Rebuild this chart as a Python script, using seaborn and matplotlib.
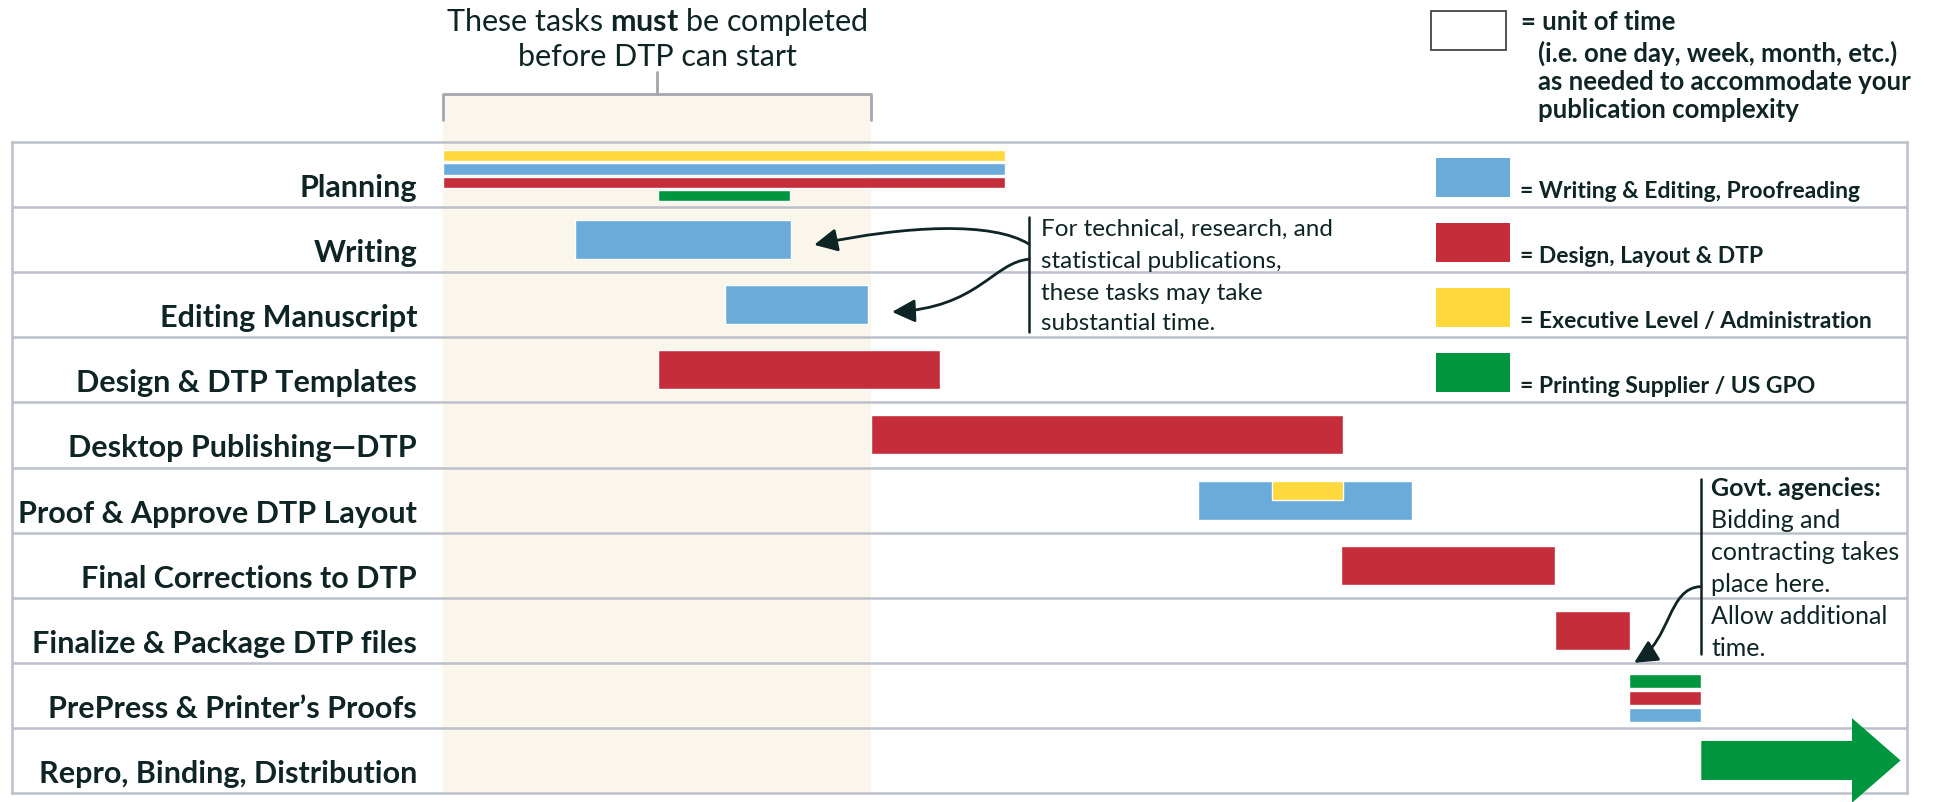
import matplotlib
matplotlib.use("Agg")
import matplotlib.pyplot as plt
from matplotlib.patches import Rectangle, Polygon, FancyArrowPatch
from matplotlib.path import Path
import seaborn as sns

# ---- data -------------------------------------------------------------
tasks = ["Planning", "Writing", "Editing Manuscript", "Design & DTP Templates",
         "Desktop Publishing\u2014DTP", "Proof & Approve DTP Layout",
         "Final Corrections to DTP", "Finalize & Package DTP files",
         "PrePress & Printer\u2019s Proofs", "Repro, Binding, Distribution"]

categories = ["Writing & Editing, Proofreading", "Design, Layout & DTP",
              "Executive Level / Administration", "Printing Supplier / US GPO"]
cat_colors = ["#6aabd9", "#c52d3b", "#ffd83c", "#00963f"]

# bar segments (units of time from the start of the schedule)
bar_task  = [0, 0, 0, 0, 1, 2, 3, 4, 5, 6, 7, 8, 8, 8]
bar_cat   = [2, 0, 1, 3, 0, 0, 1, 1, 0, 1, 1, 3, 1, 0]
bar_start = [0, 0, 0, 3.02, 1.85, 3.95, 3.01, 5.99, 10.58, 12.57, 15.57, 16.61, 16.61, 16.61]
bar_end   = [7.87, 7.87, 7.87, 4.86, 4.88, 5.96, 6.96, 12.61, 13.57, 15.57, 16.62, 17.62, 17.62, 17.62]

# executive sign-off inside the proofing bar
inset_task  = [5]
inset_cat   = [2]
inset_start = [11.61]
inset_end   = [12.61]

# open ended last phase
arrow_task, arrow_cat, arrow_start, arrow_end = 9, 3, 17.62, 20.41

# tasks that must be done before DTP
must_start, must_end = 0, 6

ink = "#0f2424"
grid = "#bcc0cc"
beige = "#faf6eb"

sns.set_style("white")
plt.rcParams["font.family"] = ["Lato", "DejaVu Sans"]
plt.rcParams["mathtext.fontset"] = "custom"
plt.rcParams["mathtext.rm"] = "Lato"
plt.rcParams["mathtext.bf"] = "Lato:bold"

fig = plt.figure(figsize=(19.42, 8.03), dpi=100)
ax = fig.add_axes([12 / 1942, 1 - 794 / 803, (1907 - 12) / 1942, (794 - 143) / 803])
ax.set_xlim(-6.03, 20.5)
ax.set_ylim(len(tasks) - 0.5, -0.5)
ax.set_xticks([])
ax.set_yticks([])
for s in ax.spines.values():
    s.set_visible(True)
    s.set_color(grid)
    s.set_linewidth(1.8)

xt = ax.get_xaxis_transform()
yt = ax.get_yaxis_transform()

# shaded "must be completed" band with bracket
ax.add_patch(Rectangle((must_start, 0), must_end - must_start, 1.074, transform=xt,
                       color=beige, zorder=0.5, clip_on=False, lw=0))
ax.plot([must_start, must_start, must_end, must_end], [1.034, 1.074, 1.074, 1.034],
        transform=xt, clip_on=False, color="#a6a6ae", lw=2)
mid = (must_start + must_end) / 2
ax.plot([mid, mid], [1.074, 1.108], transform=xt, clip_on=False, color="#a6a6ae", lw=2)
ax.text(mid, 1.186, r"These tasks $\mathbf{must}$ be completed", transform=xt,
        ha="center", va="center", fontsize=22, color=ink)
ax.text(mid, 1.132, "before DTP can start", transform=xt,
        ha="center", va="center", fontsize=22, color=ink)

for i in range(1, len(tasks)):
    ax.axhline(i - 0.5, color=grid, lw=1.8, zorder=1)

# task labels
for i, t in enumerate(tasks):
    ax.text(-0.36, i + 0.33, t, ha="right", va="baseline", fontsize=22,
            fontweight="bold", color=ink)

# bars
for t in sorted(set(bar_task)):
    idx = [k for k in range(len(bar_task)) if bar_task[k] == t]
    n = len(idx)
    if n == 1:
        h, ys = 0.6, [t]
    else:
        pitch = min(0.82 / n, 0.26)
        h = pitch * 0.85
        ys = [t + 0.41 - (n - 1 - j) * pitch - h / 2 for j in range(n)]
    for j, k in enumerate(idx):
        ax.barh(ys[j], bar_end[k] - bar_start[k], left=bar_start[k], height=h,
                color=cat_colors[bar_cat[k]], zorder=3)

for k in range(len(inset_task)):
    ax.barh(inset_task[k] - 0.15, inset_end[k] - inset_start[k], left=inset_start[k],
            height=0.3, color=cat_colors[inset_cat[k]], zorder=4)

hl = 0.68
t = arrow_task
ax.add_patch(Polygon([(arrow_start, t - 0.3), (arrow_end - hl, t - 0.3),
                      (arrow_end - hl, t - 0.65), (arrow_end, t),
                      (arrow_end - hl, t + 0.65), (arrow_end - hl, t + 0.3),
                      (arrow_start, t + 0.3)],
                     closed=True, color=cat_colors[arrow_cat], lw=0, zorder=3, clip_on=False))

# legend
ax.add_patch(Rectangle((1430.6 / 1942, 1 - 51 / 803), 75 / 1942, 39 / 803,
                       transform=fig.transFigure, facecolor="white", edgecolor="#444444",
                       lw=1.3, clip_on=False))
fig.text(1521 / 1942, 1 - 22 / 803, "= unit of time", ha="left", va="center",
         fontsize=18.5, fontweight="bold", color=ink)
for y, line in zip([53, 82, 110], ["(i.e. one day, week, month, etc.)",
                                   "as needed to accommodate your",
                                   "publication complexity"]):
    fig.text(1537.5 / 1942, 1 - y / 803, line, ha="left", va="center",
             fontsize=18.5, fontweight="bold", color=ink)

for i, (c, col) in enumerate(zip(categories, cat_colors)):
    ax.add_patch(Rectangle((0.7514, i + 0.04 - 0.3), 0.039, 0.6, transform=yt,
                           color=col, lw=0, zorder=3))
    ax.text(0.7957, i + 0.34, "= " + c, transform=yt, ha="left", va="baseline",
            fontsize=16.5, fontweight="bold", color=ink)

# annotation: writing & editing may take long
ax.plot([8.21, 8.21], [0.65, 2.42], color=ink, lw=1.8, zorder=5)
for y, line in zip([0.83, 1.32, 1.81, 2.28],
                   ["For technical, research, and", "statistical publications,",
                    "these tasks may take", "substantial time."]):
    ax.text(8.38, y, line, ha="left", va="center", fontsize=17.5, color=ink)


def curved_arrow(pts):
    path = Path(pts, [Path.MOVETO, Path.CURVE4, Path.CURVE4, Path.CURVE4])
    ax.add_patch(FancyArrowPatch(path=path, arrowstyle="-|>,head_length=0.7,head_width=0.35",
                                 mutation_scale=20, color=ink, lw=2, zorder=6,
                                 clip_on=False))


curved_arrow([(8.21, 1.07), (7.7, 0.72), (6.5, 0.78), (5.2, 1.08)])
curved_arrow([(8.21, 1.3), (7.7, 1.35), (7.5, 2.05), (6.29, 2.11)])

# annotation: government bidding
ax.plot([17.61, 17.61], [4.68, 7.37], color=ink, lw=1.8, zorder=5)
gov_lines = ["Govt. agencies:", "Bidding and", "contracting takes", "place here.",
             "Allow additional", "time."]
for j, (y, line) in enumerate(zip([4.80, 5.30, 5.79, 6.28, 6.78, 7.27], gov_lines)):
    ax.text(17.76, y, line, ha="left", va="center", fontsize=18, color=ink,
            fontweight="bold" if j == 0 else "normal")
curved_arrow([(17.61, 6.33), (17.15, 6.35), (17.2, 7.15), (16.68, 7.5)])

fig.savefig("out.png", dpi=100)
